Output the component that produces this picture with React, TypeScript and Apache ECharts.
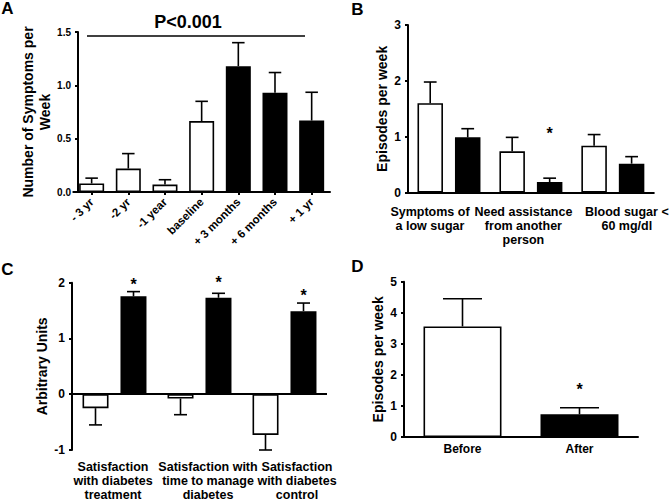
import React, { useEffect, useRef } from "react";
import * as echarts from "echarts";

const FONT = "Liberation Sans, Arial, Helvetica, sans-serif";

// Panel A
const catsA = ["- 3 yr", "-2 yr", "-1 year", "baseline", "+ 3 months", "+ 6 months", "+ 1 yr"];
const meanA = [0.08, 0.22, 0.07, 0.665, 1.18, 0.93, 0.67];
const semA = [0.05, 0.14, 0.045, 0.185, 0.22, 0.19, 0.265];
const phaseA = ["pre", "pre", "pre", "pre", "post", "post", "post"];
const ticksA = [0, 0.5, 1.0, 1.5];

// Panel B
const catsB = ["Symptoms of\na low sugar", "Need assistance\nfrom another\nperson", "Blood sugar <\n60 mg/dl"];
const beforeB = [1.6, 0.74, 0.84];
const beforeSemB = [0.38, 0.25, 0.2];
const afterB = [0.99, 0.19, 0.52];
const afterSemB = [0.155, 0.07, 0.125];
const starB = [null, 1.12, null];

// Panel C
const catsC = ["Satisfaction\nwith diabetes\ntreatment", "Satisfaction with\ntime to manage\ndiabetes", "Satisfaction\nwith diabetes\ncontrol"];
const beforeC = [-0.25, -0.077, -0.73];
const beforeSemC = [0.3, 0.29, 0.27];
const afterC = [1.755, 1.73, 1.49];
const afterSemC = [0.085, 0.08, 0.145];
const starC = [2.02, 2.05, 1.82];

// Panel D
const catsD = ["Before", "After"];
const meanD = [3.56, 0.73];
const semD = [0.89, 0.21];
const starD = [null, 1.62];

// horizontal nudges of the category labels (px, + = right)
const labelShiftB = [-19, -7.5, 14];
const labelShiftC = [-1.5, 8.5, 12.5];

const errData = (mean: number[], sem: number[]) =>
  mean.map((m, i) => [i, m, m + (m < 0 ? -1 : 1) * sem[i]]);

const starData = (stars: (number | null)[]) =>
  stars.map((s, i) => (s == null ? null : [i, s])).filter((d) => d != null);

const shiftedCats = (cats: string[], shifts: number[]) =>
  cats.map((c, i) => {
    const s = shifts[i];
    return {
      value: c,
      textStyle: { padding: s < 0 ? [0, -2 * s, 0, 0] : [0, 0, 0, 2 * s] },
    };
  });

function errRender(barW: number, offset: number) {
  return (params: any, api: any) => {
    const cat = api.value(0);
    const p0 = api.coord([cat, api.value(1)]);
    const p1 = api.coord([cat, api.value(2)]);
    const x = p0[0] + offset;
    const h = barW / 4;
    return {
      type: "group",
      children: [
        { type: "line", shape: { x1: x, y1: p0[1], x2: x, y2: p1[1] }, style: { stroke: "#000", lineWidth: 1.6 } },
        { type: "line", shape: { x1: x - h, y1: p1[1], x2: x + h, y2: p1[1] }, style: { stroke: "#000", lineWidth: 1.6 } },
      ],
    };
  };
}

function starRender(offset: number) {
  return (params: any, api: any) => {
    const p = api.coord([api.value(0), api.value(1)]);
    return {
      type: "text",
      x: p[0] + offset,
      y: p[1] + 3,
      style: {
        text: "*",
        fontSize: 16,
        fontWeight: "bold",
        fontFamily: FONT,
        fill: "#000",
        align: "center",
        verticalAlign: "middle",
      },
    };
  };
}

const axisLineStyle = { lineStyle: { color: "#000", width: 2 } };

function yAxisCfg(gridIndex: number, min: number, max: number, interval: number, name: string, nameGap: number, fontSize: number, nameSize: number, offset = 0) {
  return {
    type: "value",
    gridIndex,
    min,
    max,
    interval,
    offset,
    name,
    nameLocation: "middle",
    nameRotate: 90,
    nameGap,
    nameTextStyle: { fontFamily: FONT, fontWeight: "bold", fontSize: nameSize, color: "#000", lineHeight: 16.5 },
    axisLine: { show: true, ...axisLineStyle },
    axisTick: { show: true, length: 3, lineStyle: { color: "#000", width: 2 } },
    axisLabel: { fontFamily: FONT, fontWeight: "bold", fontSize, color: "#000", margin: 7 } as any,
    splitLine: { show: false },
  };
}

function xLabel(fontSize: number, margin: number) {
  return { fontFamily: FONT, fontWeight: "bold", fontSize, color: "#000", margin, lineHeight: 14, interval: 0 };
}

const white = { color: "#fff", borderColor: "#000", borderWidth: 1.6 };
const black = { color: "#000", borderColor: "#000", borderWidth: 1.6 };

export default function App() {
  const ref = useRef<HTMLDivElement>(null);
  useEffect(() => {
    if (!ref.current) return;
    const chart = echarts.init(ref.current, undefined, { renderer: "svg" });
    const yA = yAxisCfg(0, ticksA[0], ticksA[ticksA.length - 1], 0.5, "Number of Symptoms per\nWeek", 24.5, 10, 14, -4.7);
    yA.axisLabel.formatter = (v: number) => v.toFixed(1);
    const option: any = {
      animation: false,
      backgroundColor: "#fff",
      grid: [
        { left: 73.3, top: 32, width: 256.7, height: 160 },
        { left: 408, top: 25, width: 250, height: 167.7 },
        { left: 72, top: 282.7, width: 255, height: 168.6 },
        { left: 404, top: 281.7, width: 234, height: 155.3 },
      ],
      xAxis: [
        {
          type: "category",
          gridIndex: 0,
          data: catsA,
          axisLine: axisLineStyle,
          axisTick: { show: true, alignWithLabel: true, length: 3, lineStyle: { color: "#000", width: 2 } },
          axisLabel: { ...xLabel(11.5, 8), rotate: 45 },
        },
        {
          type: "category",
          gridIndex: 1,
          data: shiftedCats(catsB, labelShiftB),
          axisLine: axisLineStyle,
          axisTick: { show: false },
          axisLabel: xLabel(12.5, 12),
        },
        {
          type: "category",
          gridIndex: 2,
          data: shiftedCats(catsC, labelShiftC),
          axisLine: { show: false, onZero: false },
          axisTick: { show: false },
          axisLabel: xLabel(12.5, 10),
        },
        {
          type: "category",
          gridIndex: 3,
          data: catsD,
          axisLine: axisLineStyle,
          axisTick: { show: false },
          axisLabel: xLabel(12, 5),
        },
      ],
      yAxis: [
        yA,
        yAxisCfg(1, 0, 3, 1, "Episodes per week", 18, 12, 14),
        yAxisCfg(2, -1, 2, 1, "Arbitrary Units", 20, 12, 14),
        yAxisCfg(3, 0, 5, 1, "Episodes per week", 14, 12, 14),
      ],
      graphic: [
        { type: "text", x: 7.5, y: 8, style: { text: "A", fontSize: 17, fontWeight: "bold", fontFamily: FONT, fill: "#000", align: "center", verticalAlign: "middle" } },
        { type: "text", x: 357.5, y: 9, style: { text: "B", fontSize: 17, fontWeight: "bold", fontFamily: FONT, fill: "#000", align: "center", verticalAlign: "middle" } },
        { type: "text", x: 7.5, y: 269, style: { text: "C", fontSize: 17, fontWeight: "bold", fontFamily: FONT, fill: "#000", align: "center", verticalAlign: "middle" } },
        { type: "text", x: 357.5, y: 266, style: { text: "D", fontSize: 17, fontWeight: "bold", fontFamily: FONT, fill: "#000", align: "center", verticalAlign: "middle" } },
        { type: "text", x: 188, y: 22, style: { text: "P<0.001", fontSize: 18, fontWeight: "bold", fontFamily: FONT, fill: "#000", align: "center", verticalAlign: "middle" } },
        { type: "line", shape: { x1: 87, y1: 36, x2: 305, y2: 36 }, style: { stroke: "#000", lineWidth: 1.6 } },
      ],
      series: [
        // A
        {
          type: "bar",
          xAxisIndex: 0,
          yAxisIndex: 0,
          barWidth: 25,
          data: meanA.map((v, i) => ({ value: v, itemStyle: phaseA[i] === "pre" ? white : black })),
        },
        {
          type: "custom",
          xAxisIndex: 0,
          yAxisIndex: 0,
          clip: false,
          z: 5,
          renderItem: errRender(25, 0),
          data: errData(meanA, semA),
        },
        // B
        { type: "bar", xAxisIndex: 1, yAxisIndex: 1, barWidth: 25.5, barGap: "47%", itemStyle: white, data: beforeB },
        { type: "bar", xAxisIndex: 1, yAxisIndex: 1, barWidth: 25.5, barGap: "47%", itemStyle: black, data: afterB },
        { type: "custom", xAxisIndex: 1, yAxisIndex: 1, clip: false, z: 5, renderItem: errRender(25.5, -18.75), data: errData(beforeB, beforeSemB) },
        { type: "custom", xAxisIndex: 1, yAxisIndex: 1, clip: false, z: 5, renderItem: errRender(25.5, 18.75), data: errData(afterB, afterSemB) },
        { type: "custom", xAxisIndex: 1, yAxisIndex: 1, clip: false, z: 5, renderItem: starRender(18.75), data: starData(starB) },
        // C
        {
          type: "bar",
          xAxisIndex: 2,
          yAxisIndex: 2,
          barWidth: 26,
          barGap: "46%",
          itemStyle: white,
          data: beforeC,
          markLine: {
            silent: true,
            symbol: ["none", "none"],
            label: { show: false },
            lineStyle: { color: "#000", width: 2, type: "solid" },
            data: [{ yAxis: 0 }],
          },
        },
        { type: "bar", xAxisIndex: 2, yAxisIndex: 2, barWidth: 26, barGap: "46%", itemStyle: black, data: afterC },
        { type: "custom", xAxisIndex: 2, yAxisIndex: 2, clip: false, z: 5, renderItem: errRender(26, -19), data: errData(beforeC, beforeSemC) },
        { type: "custom", xAxisIndex: 2, yAxisIndex: 2, clip: false, z: 5, renderItem: errRender(26, 19), data: errData(afterC, afterSemC) },
        { type: "custom", xAxisIndex: 2, yAxisIndex: 2, clip: false, z: 5, renderItem: starRender(19), data: starData(starC) },
        // D
        {
          type: "bar",
          xAxisIndex: 3,
          yAxisIndex: 3,
          barWidth: 78,
          data: meanD.map((v, i) => ({ value: v, itemStyle: i === 0 ? white : black })),
        },
        { type: "custom", xAxisIndex: 3, yAxisIndex: 3, clip: false, z: 5, renderItem: errRender(78, 0), data: errData(meanD, semD) },
        { type: "custom", xAxisIndex: 3, yAxisIndex: 3, clip: false, z: 5, renderItem: starRender(0), data: starData(starD) },
      ],
    };
    chart.setOption(option);
    return () => chart.dispose();
  }, []);
  return (
    <div
      ref={ref}
      style={{ position: "fixed", left: 0, top: 0, width: 671, height: 502, background: "#fff" }}
    />
  );
}
